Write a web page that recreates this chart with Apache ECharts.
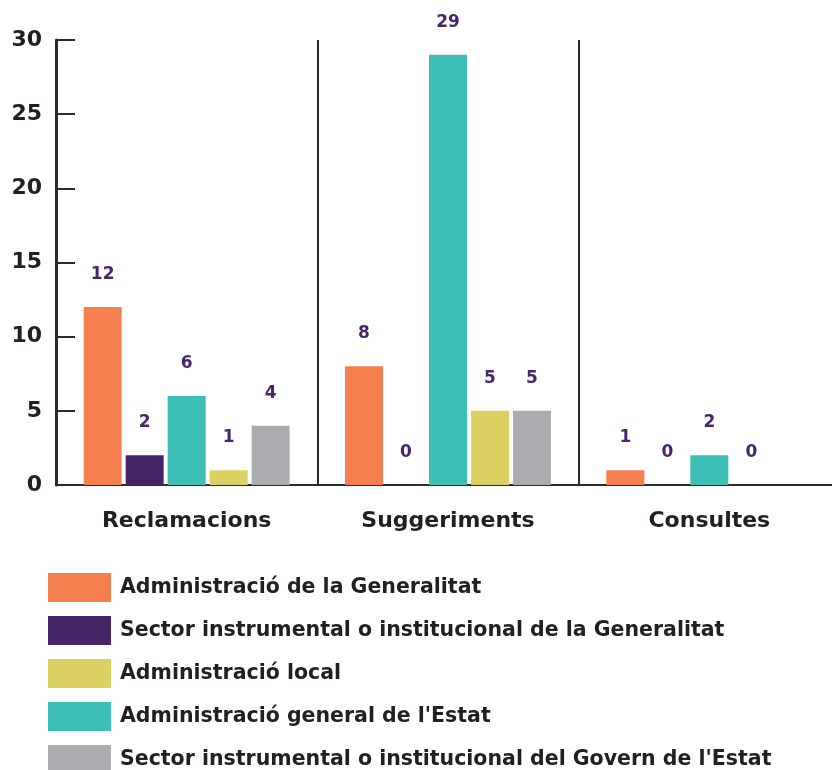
<!DOCTYPE html>
<html>
<head>
<meta charset="utf-8">
<script src="https://cdn.jsdelivr.net/npm/echarts@6/dist/echarts.min.js"></script>
<style>
  html, body { margin: 0; padding: 0; background: #fff; overflow: hidden; }
  #wrap { width: 832px; height: 770px; overflow: hidden; }
  #chart { width: 840px; height: 770px; }
</style>
</head>
<body>
<div id="wrap"><div id="chart"></div></div>
<script>
// dades
var categories = ['Reclamacions', 'Suggeriments', 'Consultes'];
var adminGeneralitat = [12, 8, 1];
var sectorGeneralitat = [2, 0, 0];
var adminEstat = [6, 29, 2];
var adminLocal = [1, 5, 0];
var sectorEstat = [4, 5, null];
var yTicks = [0, 5, 10, 15, 20, 25, 30];

var FONT = 'DejaVu Sans';
var legendOrder = [
	'Administració de la Generalitat',
	'Sector instrumental o institucional de la Generalitat',
	'Administració local',
	'Administració general de l\'Estat',
	'Sector instrumental o institucional del Govern de l\'Estat'
];

function barSerie(name, color, data) {
	return {
		name: name,
		type: 'bar',
		barWidth: 38,
		barGap: '10.5%',
		itemStyle: { color: color },
		label: {
			show: true,
			position: 'top',
			distance: 24,
			color: '#45256B',
			fontFamily: FONT,
			fontWeight: 'bold',
			fontSize: 17
		},
		data: data
	};
}

// el gràfic fa 840px d'ample, els últims 8px queden retallats
var myChart = echarts.init(document.getElementById('chart'));
var option = {
	animation: false,
	grid: {
		left: 56,
		right: 0,
		top: 40,
		bottom: 285,
		outerBoundsMode: 'none'
	},
	legend: {
		orient: 'vertical',
		left: 48,
		top: 573,
		height: 260,
		padding: 0,
		itemWidth: 63,
		itemHeight: 29,
		itemGap: 14,
		icon: 'rect',
		data: legendOrder,
		textStyle: {
			fontFamily: FONT,
			fontWeight: 'bold',
			fontSize: 20.5,
			color: '#231F20',
			padding: [0, 0, 0, 4]
		}
	},
	xAxis: {
		type: 'category',
		data: categories,
		axisTick: { show: false },
		axisLine: { lineStyle: { color: '#2b2b2b', width: 2 } },
		splitLine: {
			show: true,
			interval: 0,
			lineStyle: { color: '#2b2b2b', width: 2 }
		},
		axisLabel: {
			margin: 25,
			fontFamily: FONT,
			fontWeight: 'bold',
			fontSize: 22,
			color: '#231F20'
		}
	},
	yAxis: {
		type: 'value',
		min: yTicks[0],
		max: yTicks[yTicks.length - 1],
		interval: 5,
		axisLine: { show: true, lineStyle: { color: '#2b2b2b', width: 3 } },
		axisTick: {
			show: true,
			inside: true,
			length: 19,
			lineStyle: { color: '#2b2b2b', width: 2 }
		},
		splitLine: { show: false },
		axisLabel: {
			margin: 14,
			fontFamily: FONT,
			fontWeight: 'bold',
			fontSize: 22,
			color: '#231F20'
		}
	},
	series: [
		barSerie(legendOrder[0], '#F5804F', adminGeneralitat),
		barSerie(legendOrder[1], '#452566', sectorGeneralitat),
		barSerie(legendOrder[3], '#3DBFB5', adminEstat),
		barSerie(legendOrder[2], '#DBD162', adminLocal),
		barSerie(legendOrder[4], '#ABACB0', sectorEstat)
	]
};
myChart.setOption(option);
</script>
</body>
</html>
